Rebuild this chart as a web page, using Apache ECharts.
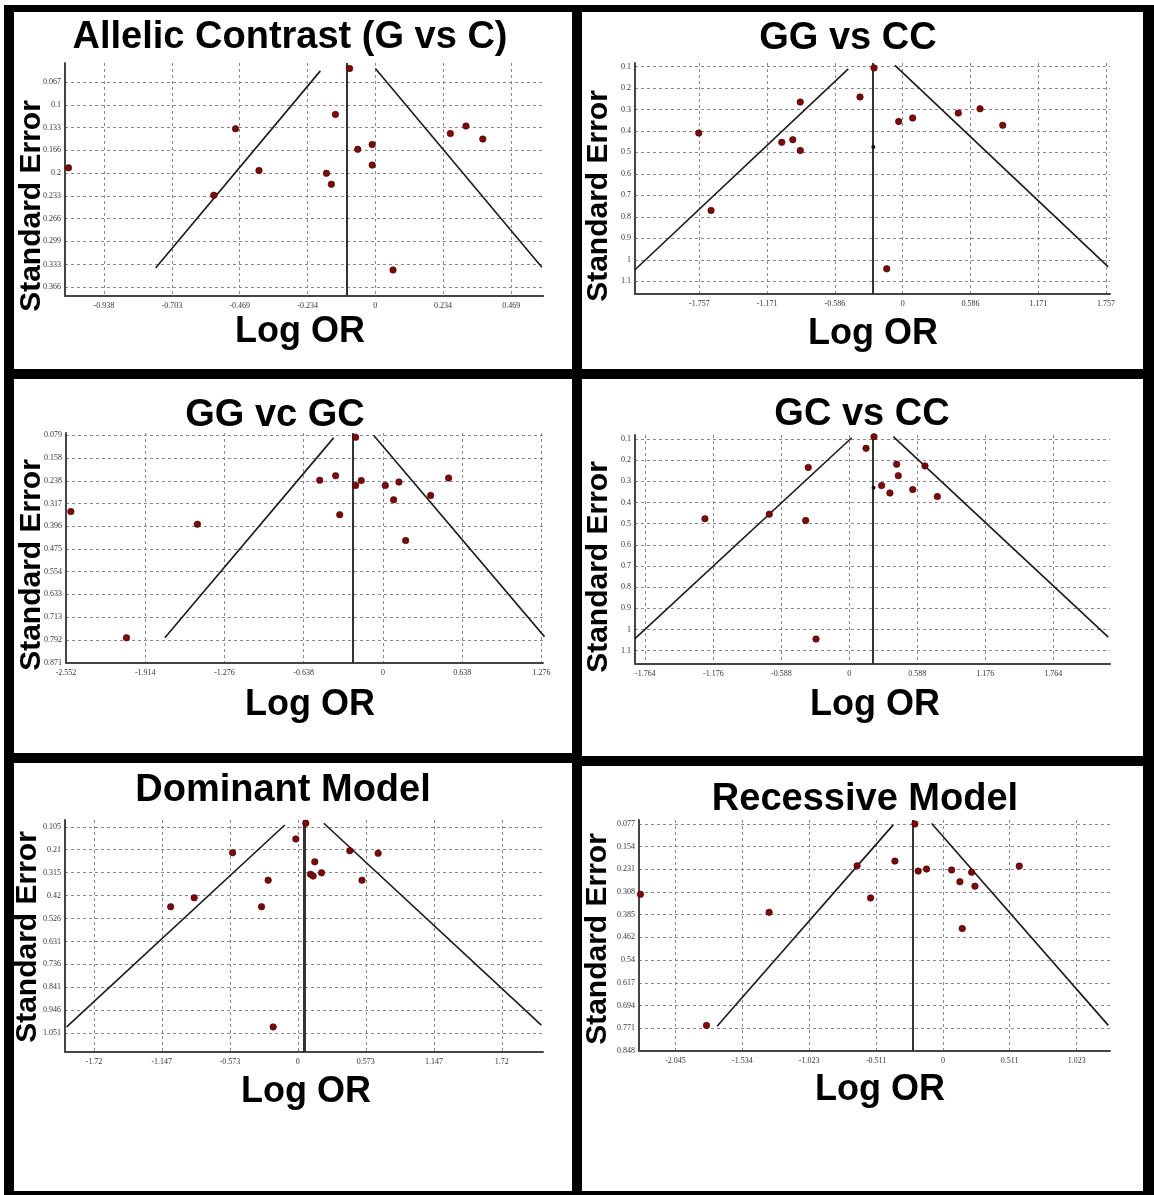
<!DOCTYPE html>
<html><head><meta charset="utf-8">
<script src="https://cdn.jsdelivr.net/npm/echarts@6/dist/echarts.min.js"></script>
<style>html,body{margin:0;padding:0;background:#fff}#chart{width:1154px;height:1195px}</style>
</head><body><div id="chart"></div>
<script>
// ---------- Panel 1: Allelic Contrast (G vs C)
const allelicLogOR = [-1.060, -0.483, -0.402, -0.558, -0.138, -0.169, -0.152, -0.089, -0.061, -0.011, -0.011, 0.061, 0.259, 0.313, 0.371];
const allelicSE    = [0.192, 0.135, 0.196, 0.232, 0.114, 0.200, 0.216, 0.047, 0.165, 0.158, 0.188, 0.341, 0.142, 0.131, 0.150];
const allelicPooled = -0.0955;
const allelicFunnelLeft  = [[-0.759, 0.338], [-0.190, 0.0505]];
const allelicFunnelRight = [[0.000, 0.047], [0.575, 0.337]];
const allelicXTicks = [-0.938, -0.703, -0.469, -0.234, 0, 0.234, 0.469];
const allelicYTicks = [0.067, 0.1, 0.133, 0.166, 0.2, 0.233, 0.266, 0.299, 0.333, 0.366];

// ---------- Panel 2: GG vs CC
const ggccLogOR = [-1.762, -1.656, -1.045, -0.950, -0.885, -0.885, -0.369, -0.248, -0.138, -0.035, 0.086, 0.480, 0.668, 0.864];
const ggccSE    = [0.410, 0.770, 0.453, 0.441, 0.266, 0.491, 0.242, 0.107, 1.042, 0.356, 0.340, 0.317, 0.297, 0.374];
const ggccBlackLogOR = [-0.254];
const ggccBlackSE    = [0.475];
const ggccPooled = -0.259;
const ggccFunnelLeft  = [[-2.313, 1.046], [-0.470, 0.111]];
const ggccFunnelRight = [[-0.067, 0.095], [1.776, 1.033]];
const ggccXTicks = [-1.757, -1.171, -0.586, 0, 0.586, 1.171, 1.757];
const ggccYTicks = [0.1, 0.2, 0.3, 0.4, 0.5, 0.6, 0.7, 0.8, 0.9, 1, 1.1];

// ---------- Panel 3: GG vc GC
const gggcLogOR = [-2.513, -2.065, -1.494, -0.509, -0.381, -0.348, -0.220, -0.220, -0.175, 0.019, 0.086, 0.129, 0.183, 0.384, 0.529];
const gggcSE    = [0.345, 0.785, 0.389, 0.236, 0.220, 0.356, 0.086, 0.254, 0.237, 0.254, 0.304, 0.242, 0.446, 0.289, 0.228];
const gggcPooled = -0.236;
const gggcFunnelLeft  = [[-1.756, 0.785], [-0.397, 0.088]];
const gggcFunnelRight = [[-0.075, 0.079], [1.301, 0.781]];
const gggcXTicks = [-2.552, -1.914, -1.276, -0.638, 0, 0.638, 1.276];
const gggcYTicks = [0.079, 0.158, 0.238, 0.317, 0.396, 0.475, 0.554, 0.633, 0.713, 0.792, 0.871];

// ---------- Panel 4: GC vs CC
const gcccLogOR = [-1.249, -0.692, -0.377, -0.355, -0.288, 0.145, 0.214, 0.280, 0.352, 0.410, 0.424, 0.549, 0.655, 0.762];
const gcccSE    = [0.477, 0.455, 0.485, 0.234, 1.045, 0.144, 0.089, 0.320, 0.355, 0.219, 0.273, 0.339, 0.227, 0.372];
const gcccBlackLogOR = [0.210];
const gcccBlackSE    = [0.330];
const gcccPooled = 0.202;
const gcccFunnelLeft  = [[-1.854, 1.043], [0.021, 0.094]];
const gcccFunnelRight = [[0.381, 0.089], [2.241, 1.036]];
const gcccXTicks = [-1.764, -1.176, -0.588, 0, 0.588, 1.176, 1.764];
const gcccYTicks = [0.1, 0.2, 0.3, 0.4, 0.5, 0.6, 0.7, 0.8, 0.9, 1, 1.1];

// ---------- Panel 5: Dominant Model
const domLogOR = [-1.072, -0.874, -0.550, -0.306, -0.250, -0.208, -0.017, 0.067, 0.107, 0.129, 0.143, 0.200, 0.438, 0.541, 0.677];
const domSE    = [0.472, 0.431, 0.224, 0.472, 0.350, 1.023, 0.161, 0.089, 0.323, 0.331, 0.266, 0.316, 0.215, 0.350, 0.227];
const domPooled = 0.053;
const domFunnelLeft  = [[-1.949, 1.023], [-0.110, 0.097]];
const domFunnelRight = [[0.219, 0.089], [2.053, 1.015]];
const domXTicks = [-1.72, -1.147, -0.573, 0, 0.573, 1.147, 1.72];
const domYTicks = [0.105, 0.21, 0.315, 0.42, 0.526, 0.631, 0.736, 0.841, 0.946, 1.051];

// ---------- Panel 6: Recessive Model
const recLogOR = [-2.313, -1.808, -1.329, -0.656, -0.553, -0.367, -0.214, -0.189, -0.125, 0.067, 0.130, 0.148, 0.220, 0.245, 0.584];
const recSE    = [0.316, 0.761, 0.377, 0.219, 0.328, 0.203, 0.077, 0.237, 0.230, 0.233, 0.273, 0.432, 0.241, 0.288, 0.220];
const recPooled = -0.232;
const recFunnelLeft  = [[-1.727, 0.764], [-0.380, 0.080]];
const recFunnelRight = [[-0.086, 0.075], [1.265, 0.761]];
const recXTicks = [-2.045, -1.534, -1.023, -0.511, 0, 0.511, 1.023];
const recYTicks = [0.077, 0.154, 0.231, 0.308, 0.385, 0.462, 0.54, 0.617, 0.694, 0.771, 0.848];

const titles = ['Allelic Contrast (G vs C)', 'GG vs CC', 'GG vc GC', 'GC vs CC', 'Dominant Model', 'Recessive Model'];

// layout (pixels) and axis extents
const panels = [
  {title: titles[0], lo: allelicLogOR, se: allelicSE, bx: [], bs: [], pooled: allelicPooled, fl: allelicFunnelLeft, fr: allelicFunnelRight, xt: allelicXTicks, yt: allelicYTicks,
   grid: {left: 65, top: 63, width: 478, height: 233}, xr: [-1.072, 0.579], yr: [0.039, 0.379], tp: [290, 19], lp: [300, 332], sp: [32, 206]},
  {title: titles[1], lo: ggccLogOR, se: ggccSE, bx: ggccBlackLogOR, bs: ggccBlackSE, pooled: ggccPooled, fl: ggccFunnelLeft, fr: ggccFunnelRight, xt: ggccXTicks, yt: ggccYTicks,
   grid: {left: 635, top: 63, width: 475, height: 231}, xr: [-2.313, 1.791], yr: [0.084, 1.159], tp: [848, 20], lp: [873, 334], sp: [599, 196]},
  {title: titles[2], lo: gggcLogOR, se: gggcSE, bx: [], bs: [], pooled: gggcPooled, fl: gggcFunnelLeft, fr: gggcFunnelRight, xt: gggcXTicks, yt: gggcYTicks,
   grid: {left: 66, top: 433, width: 477, height: 230}, xr: [-2.552, 1.289], yr: [0.071, 0.873], tp: [275, 397], lp: [310, 705], sp: [32, 565]},
  {title: titles[3], lo: gcccLogOR, se: gcccSE, bx: gcccBlackLogOR, bs: gcccBlackSE, pooled: gcccPooled, fl: gcccFunnelLeft, fr: gcccFunnelRight, xt: gcccXTicks, yt: gcccYTicks,
   grid: {left: 635, top: 435, width: 475, height: 229}, xr: [-1.854, 2.256], yr: [0.081, 1.163], tp: [862, 396], lp: [875, 705], sp: [599, 567]},
  {title: titles[4], lo: domLogOR, se: domSE, bx: [], bs: [], pooled: domPooled, fl: domFunnelLeft, fr: domFunnelRight, xt: domXTicks, yt: domYTicks,
   grid: {left: 65, top: 820, width: 478, height: 232}, xr: [-1.963, 2.067], yr: [0.074, 1.138], tp: [283, 772], lp: [306, 1092], sp: [28, 937]},
  {title: titles[5], lo: recLogOR, se: recSE, bx: [], bs: [], pooled: recPooled, fl: recFunnelLeft, fr: recFunnelRight, xt: recXTicks, yt: recYTicks,
   grid: {left: 639, top: 820, width: 471, height: 231}, xr: [-2.324, 1.278], yr: [0.0634, 0.848], tp: [865, 781], lp: [880, 1090], sp: [598, 939]}
];

const tickFont = {fontSize: 8, fontFamily: 'Liberation Serif', color: '#333'};
const gridLine = {show: true, lineStyle: {type: [3, 3], color: '#8a8a8a', width: 1}};
const axisLineStyle = {color: '#444', width: 2};

const series = [];
panels.forEach((p, i) => {
  series.push({
    type: 'scatter', xAxisIndex: i, yAxisIndex: i, symbolSize: 6.5,
    itemStyle: {color: '#7d0a0a', borderColor: '#3a0000', borderWidth: 0.6, opacity: 1},
    data: p.lo.map((v, k) => [v, p.se[k]]),
    markLine: {silent: true, symbol: 'none', label: {show: false},
      lineStyle: {color: '#333', width: i === 4 ? 3 : 2, type: 'solid'},
      data: [{xAxis: p.pooled}]},
    z: 5
  });
  if (p.bx.length) series.push({
    type: 'scatter', xAxisIndex: i, yAxisIndex: i, symbolSize: 4,
    itemStyle: {color: '#111', opacity: 1}, data: p.bx.map((v, k) => [v, p.bs[k]]), z: 6
  });
  [p.fl, p.fr].forEach(f => series.push({
    type: 'line', xAxisIndex: i, yAxisIndex: i, symbol: 'none', data: f,
    lineStyle: {color: '#1a1a1a', width: 1.6}, z: 3
  }));
});

const graphic = [];
const rects = [
  [4, 5, 1150, 7], [4, 5, 10, 1190], [1143, 5, 11, 1190], [4, 1191, 1150, 4],
  [572, 5, 10, 1190], [4, 369, 1150, 10], [4, 753, 573, 10], [577, 756, 577, 10]
];
rects.forEach(r => graphic.push({type: 'rect', shape: {x: r[0], y: r[1], width: r[2], height: r[3]}, style: {fill: '#000'}, z: 100}));
panels.forEach(p => {
  graphic.push({type: 'text', x: p.lp[0], y: p.lp[1], style: {text: 'Log OR', fill: '#000', font: 'bold 36px "Liberation Sans", Arial, sans-serif', textAlign: 'center', textVerticalAlign: 'middle'}});
  graphic.push({type: 'text', x: p.sp[0], y: p.sp[1], rotation: Math.PI / 2, style: {text: 'Standard Error', fill: '#000', font: 'bold 30px "Liberation Sans", Arial, sans-serif', textAlign: 'center', textVerticalAlign: 'middle'}});
});

const option = {
  animation: false,
  backgroundColor: '#fff',
  title: panels.map(p => ({text: p.title, left: p.tp[0], top: p.tp[1], textAlign: 'center', padding: 0,
    textStyle: {fontSize: 38, fontWeight: 'bold', fontFamily: '"Liberation Sans", Arial, sans-serif', color: '#000'}})),
  grid: panels.map(p => Object.assign({}, p.grid)),
  xAxis: panels.map((p, i) => ({
    gridIndex: i, type: 'value', min: p.xr[0], max: p.xr[1],
    axisLine: {show: true, onZero: false, lineStyle: axisLineStyle},
    axisTick: {show: false, customValues: p.xt},
    axisLabel: Object.assign({customValues: p.xt, formatter: v => String(v), margin: 6, showMinLabel: true, showMaxLabel: true}, tickFont),
    splitLine: gridLine
  })),
  yAxis: panels.map((p, i) => ({
    gridIndex: i, type: 'value', inverse: true, min: p.yr[0], max: p.yr[1],
    axisLine: {show: true, onZero: false, lineStyle: axisLineStyle},
    axisTick: {show: false, customValues: p.yt},
    axisLabel: Object.assign({customValues: p.yt, formatter: v => String(v), margin: 4, showMinLabel: true, showMaxLabel: true}, tickFont),
    splitLine: gridLine
  })),
  series: series,
  graphic: graphic
};

const chart = echarts.init(document.getElementById('chart'), null, {renderer: 'canvas'});
chart.setOption(option);
</script>
</body></html>
